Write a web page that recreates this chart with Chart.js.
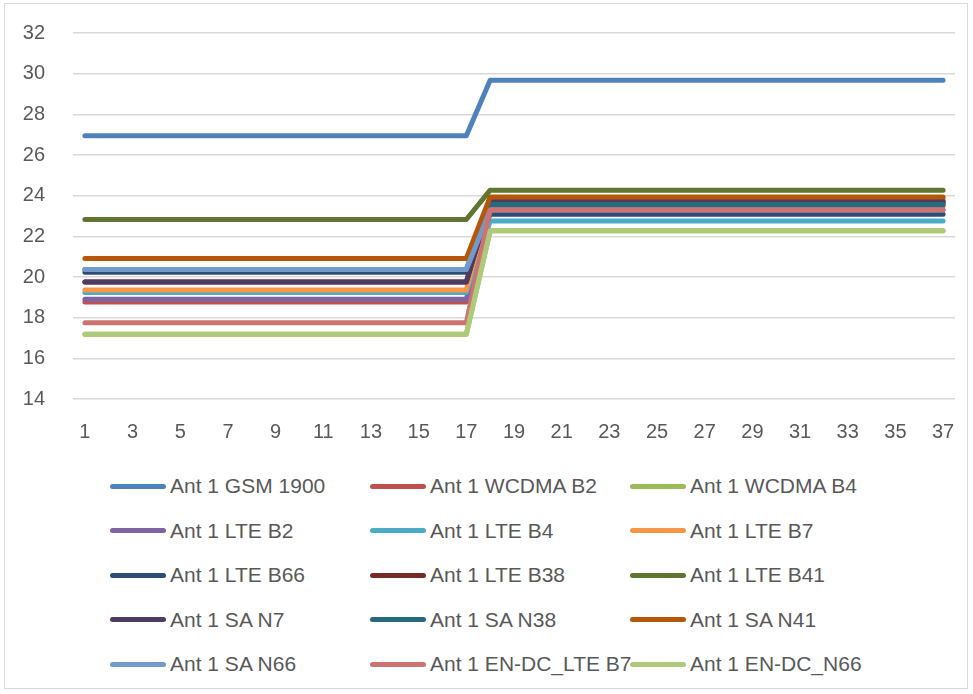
<!DOCTYPE html>
<html>
<head>
<meta charset="utf-8">
<script src="https://cdn.jsdelivr.net/npm/chart.js@4.4.1/dist/chart.umd.min.js"></script>
<style>
  html, body { margin: 0; padding: 0; background: #ffffff; }
  #wrap { position: relative; width: 973px; height: 694px; overflow: hidden; font-family: "Liberation Sans", Arial, sans-serif; }
  #frame { position: absolute; left: 4px; top: 3px; width: 964px; height: 686px; border: 1px solid #d9d9d9; box-sizing: border-box; }
  #c { position: absolute; left: 0; top: 0; }
  .lg { position: absolute; height: 30px; display: flex; align-items: center; color: #595959; font-size: 21px; white-space: nowrap; }
  .sw { width: 56px; height: 5px; border-radius: 3px; margin-right: 4px; }
</style>
</head>
<body>
<div id="wrap">
  <div id="frame"></div>
  <canvas id="c" width="973" height="460"></canvas>
  <div id="legend"></div>
</div>
<script>
const categories = ["1","2","3","4","5","6","7","8","9","10","11","12","13","14","15","16","17","18","19","20","21","22","23","24","25","26","27","28","29","30","31","32","33","34","35","36","37"];

const seriesNames = ["Ant 1 GSM 1900","Ant 1 WCDMA B2","Ant 1 WCDMA B4","Ant 1 LTE B2","Ant 1 LTE B4","Ant 1 LTE B7","Ant 1 LTE B66","Ant 1 LTE B38","Ant 1 LTE B41","Ant 1 SA N7","Ant 1 SA N38","Ant 1 SA N41","Ant 1 SA N66","Ant 1 EN-DC_LTE B7","Ant 1 EN-DC_N66"];

const seriesColors = ["#4F81BD","#C0504D","#9BBB59","#8064A2","#4BACC6","#F79646","#2C4D75","#772C2A","#5F7530","#4D3B62","#276A7C","#B65708","#729ACA","#CD7371","#AFC97A"];

const gsm1900 = [26.95,26.95,26.95,26.95,26.95,26.95,26.95,26.95,26.95,26.95,26.95,26.95,26.95,26.95,26.95,26.95,26.95,29.68,29.68,29.68,29.68,29.68,29.68,29.68,29.68,29.68,29.68,29.68,29.68,29.68,29.68,29.68,29.68,29.68,29.68,29.68,29.68];
const wcdmaB2 = [18.77,18.77,18.77,18.77,18.77,18.77,18.77,18.77,18.77,18.77,18.77,18.77,18.77,18.77,18.77,18.77,18.77,23.5,23.5,23.5,23.5,23.5,23.5,23.5,23.5,23.5,23.5,23.5,23.5,23.5,23.5,23.5,23.5,23.5,23.5,23.5,23.5];
const wcdmaB4 = [17.19,17.19,17.19,17.19,17.19,17.19,17.19,17.19,17.19,17.19,17.19,17.19,17.19,17.19,17.19,17.19,17.19,22.27,22.27,22.27,22.27,22.27,22.27,22.27,22.27,22.27,22.27,22.27,22.27,22.27,22.27,22.27,22.27,22.27,22.27,22.27,22.27];
const lteB2 = [18.9,18.9,18.9,18.9,18.9,18.9,18.9,18.9,18.9,18.9,18.9,18.9,18.9,18.9,18.9,18.9,18.9,23.62,23.62,23.62,23.62,23.62,23.62,23.62,23.62,23.62,23.62,23.62,23.62,23.62,23.62,23.62,23.62,23.62,23.62,23.62,23.62];
const lteB4 = [19.24,19.24,19.24,19.24,19.24,19.24,19.24,19.24,19.24,19.24,19.24,19.24,19.24,19.24,19.24,19.24,19.24,22.75,22.75,22.75,22.75,22.75,22.75,22.75,22.75,22.75,22.75,22.75,22.75,22.75,22.75,22.75,22.75,22.75,22.75,22.75,22.75];
const lteB7 = [19.36,19.36,19.36,19.36,19.36,19.36,19.36,19.36,19.36,19.36,19.36,19.36,19.36,19.36,19.36,19.36,19.36,23.85,23.85,23.85,23.85,23.85,23.85,23.85,23.85,23.85,23.85,23.85,23.85,23.85,23.85,23.85,23.85,23.85,23.85,23.85,23.85];
const lteB66 = [20.23,20.23,20.23,20.23,20.23,20.23,20.23,20.23,20.23,20.23,20.23,20.23,20.23,20.23,20.23,20.23,20.23,23.08,23.08,23.08,23.08,23.08,23.08,23.08,23.08,23.08,23.08,23.08,23.08,23.08,23.08,23.08,23.08,23.08,23.08,23.08,23.08];
const lteB38 = [19.75,19.75,19.75,19.75,19.75,19.75,19.75,19.75,19.75,19.75,19.75,19.75,19.75,19.75,19.75,19.75,19.75,23.7,23.7,23.7,23.7,23.7,23.7,23.7,23.7,23.7,23.7,23.7,23.7,23.7,23.7,23.7,23.7,23.7,23.7,23.7,23.7];
const lteB41 = [22.83,22.83,22.83,22.83,22.83,22.83,22.83,22.83,22.83,22.83,22.83,22.83,22.83,22.83,22.83,22.83,22.83,24.27,24.27,24.27,24.27,24.27,24.27,24.27,24.27,24.27,24.27,24.27,24.27,24.27,24.27,24.27,24.27,24.27,24.27,24.27,24.27];
const saN7 = [19.75,19.75,19.75,19.75,19.75,19.75,19.75,19.75,19.75,19.75,19.75,19.75,19.75,19.75,19.75,19.75,19.75,23.73,23.73,23.73,23.73,23.73,23.73,23.73,23.73,23.73,23.73,23.73,23.73,23.73,23.73,23.73,23.73,23.73,23.73,23.73,23.73];
const saN38 = [20.37,20.37,20.37,20.37,20.37,20.37,20.37,20.37,20.37,20.37,20.37,20.37,20.37,20.37,20.37,20.37,20.37,23.57,23.57,23.57,23.57,23.57,23.57,23.57,23.57,23.57,23.57,23.57,23.57,23.57,23.57,23.57,23.57,23.57,23.57,23.57,23.57];
const saN41 = [20.91,20.91,20.91,20.91,20.91,20.91,20.91,20.91,20.91,20.91,20.91,20.91,20.91,20.91,20.91,20.91,20.91,23.94,23.94,23.94,23.94,23.94,23.94,23.94,23.94,23.94,23.94,23.94,23.94,23.94,23.94,23.94,23.94,23.94,23.94,23.94,23.94];
const saN66 = [20.37,20.37,20.37,20.37,20.37,20.37,20.37,20.37,20.37,20.37,20.37,20.37,20.37,20.37,20.37,20.37,20.37,23.29,23.29,23.29,23.29,23.29,23.29,23.29,23.29,23.29,23.29,23.29,23.29,23.29,23.29,23.29,23.29,23.29,23.29,23.29,23.29];
const endcLteB7 = [17.75,17.75,17.75,17.75,17.75,17.75,17.75,17.75,17.75,17.75,17.75,17.75,17.75,17.75,17.75,17.75,17.75,23.29,23.29,23.29,23.29,23.29,23.29,23.29,23.29,23.29,23.29,23.29,23.29,23.29,23.29,23.29,23.29,23.29,23.29,23.29,23.29];
const endcN66 = [17.19,17.19,17.19,17.19,17.19,17.19,17.19,17.19,17.19,17.19,17.19,17.19,17.19,17.19,17.19,17.19,17.19,22.27,22.27,22.27,22.27,22.27,22.27,22.27,22.27,22.27,22.27,22.27,22.27,22.27,22.27,22.27,22.27,22.27,22.27,22.27,22.27];

const yTicks = [14,16,18,20,22,24,26,28,30,32];

const seriesValues = [gsm1900, wcdmaB2, wcdmaB4, lteB2, lteB4, lteB7, lteB66, lteB38, lteB41, saN7, saN38, saN41, saN66, endcLteB7, endcN66];

const datasets = seriesValues.map((vals, i) => ({
  label: seriesNames[i],
  data: vals,
  borderColor: seriesColors[i],
  backgroundColor: seriesColors[i],
  borderWidth: 5,
  pointRadius: 0,
  pointHoverRadius: 0,
  tension: 0,
  fill: false,
  borderCapStyle: 'round',
  borderJoinStyle: 'round',
  order: -i
}));

const tickFont = { family: "'Liberation Sans', Arial, sans-serif", size: 20 };

new Chart(document.getElementById('c'), {
  type: 'line',
  data: { labels: categories, datasets: datasets },
  options: {
    responsive: false,
    animation: false,
    events: [],
    layout: { padding: { top: 33, right: 18, left: 0, bottom: 0 } },
    plugins: { legend: { display: false }, tooltip: { enabled: false } },
    scales: {
      x: {
        offset: true,
        grid: { display: false, drawTicks: false },
        border: { display: false },
        ticks: {
          color: '#595959', font: tickFont, padding: 21, autoSkip: false, maxRotation: 0,
          callback: function(v, idx) { return idx % 2 === 0 ? categories[idx] : ''; }
        },
        afterFit: function(s) { s.height = 460 - 399; s.paddingLeft = 0; s.paddingRight = 0; }
      },
      y: {
        min: yTicks[0], max: yTicks[yTicks.length - 1],
        afterBuildTicks: function(s) { s.ticks = yTicks.map(v => ({ value: v })); },
        grid: { color: '#d9d9d9', lineWidth: 1.5, drawTicks: false },
        border: { display: false },
        ticks: { color: '#595959', font: tickFont, padding: 28 },
        afterFit: function(s) { s.width = 73; s.paddingTop = 0; s.paddingBottom = 0; }
      }
    }
  }
});

// Legend (3 columns x 5 rows) built from the series arrays
const legend = document.getElementById('legend');
const colX = [110, 370, 630];
const rowY = [486, 530.5, 575, 619.5, 664];
seriesNames.forEach((name, i) => {
  const el = document.createElement('div');
  el.className = 'lg';
  el.style.left = colX[i % 3] + 'px';
  el.style.top = (rowY[Math.floor(i / 3)] - 15) + 'px';
  const sw = document.createElement('div');
  sw.className = 'sw';
  sw.style.background = seriesColors[i];
  const tx = document.createElement('span');
  tx.textContent = name;
  el.appendChild(sw);
  el.appendChild(tx);
  legend.appendChild(el);
});
</script>
</body>
</html>
